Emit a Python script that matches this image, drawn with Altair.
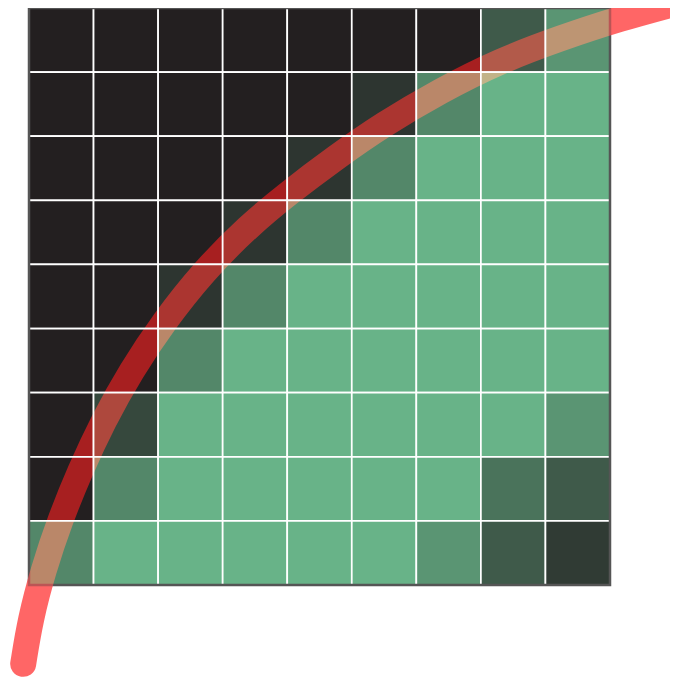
import altair as alt
import pandas as pd

# coverage of each cell (0 = dark, 1 = full green), rows listed top to bottom
coverage = [
    [0, 0, 0, 0, 0, 0, 0, 0.40, 0.80],
    [0, 0, 0, 0, 0, 0.15, 0.70, 1, 1],
    [0, 0, 0, 0, 0.15, 0.70, 1, 1, 1],
    [0, 0, 0, 0.15, 0.70, 1, 1, 1, 1],
    [0, 0, 0.15, 0.70, 1, 1, 1, 1, 1],
    [0, 0, 0.70, 1, 1, 1, 1, 1, 1],
    [0, 0.28, 1, 1, 1, 1, 1, 1, 0.80],
    [0, 0.70, 1, 1, 1, 1, 1, 0.57, 0.40],
    [0.70, 1, 1, 1, 1, 1, 0.80, 0.40, 0.19],
]

# red curve, in grid units (x from left, y from top)
curve_x = [-0.09, 0.02, 0.22, 0.48, 0.79, 1.15, 1.58, 2.09, 2.70, 3.39, 4.04,
           4.74, 5.48, 6.37, 7.30, 8.23, 9.16, 10.09, 10.71]
curve_y = [10.23, 9.54, 8.77, 7.99, 7.22, 6.44, 5.66, 4.89, 4.11, 3.41, 2.87,
           2.34, 1.82, 1.29, 0.82, 0.47, 0.16, -0.09, -0.26]

cells = pd.DataFrame(
    [
        {"col": c, "col2": c + 1, "row": r, "row2": r + 1, "v": coverage[r][c]}
        for r in range(len(coverage))
        for c in range(len(coverage[r]))
    ]
)
frame = pd.DataFrame([{"x": 0, "x2": 9, "y": 0, "y2": 9}])
curve = pd.DataFrame({"i": list(range(len(curve_x))), "x": curve_x, "y": curve_y})

xs = alt.Scale(domain=[0, 9], nice=False, zero=False)
ys = alt.Scale(domain=[0, 9], nice=False, zero=False, reverse=True)

rects = alt.Chart(cells).mark_rect(stroke="white", strokeWidth=1.7).encode(
    x=alt.X("col:Q", scale=xs, axis=None),
    x2="col2:Q",
    y=alt.Y("row:Q", scale=ys, axis=None),
    y2="row2:Q",
    color=alt.Color(
        "v:Q",
        scale=alt.Scale(domain=[0, 1], range=["#231f20", "#68b388"], interpolate="rgb"),
        legend=None,
    ),
)

border = alt.Chart(frame).mark_rect(
    fillOpacity=0, stroke="#555555", strokeWidth=2.5
).encode(
    x=alt.X("x:Q", scale=xs, axis=None),
    x2="x2:Q",
    y=alt.Y("y:Q", scale=ys, axis=None),
    y2="y2:Q",
)

line = alt.Chart(curve).mark_line(
    color="#ff0000",
    opacity=0.6,
    strokeWidth=26,
    strokeCap="round",
    interpolate="basis",
    blend="lighten",
).encode(
    x=alt.X("x:Q", scale=xs, axis=None),
    y=alt.Y("y:Q", scale=ys, axis=None),
    order="i:Q",
)

chart = (
    alt.layer(rects, border, line)
    .properties(
        width=581,
        height=577,
        autosize=alt.AutoSizeParams(type="none"),
        padding={"left": 21, "top": 0, "right": 60, "bottom": 92},
    )
    .configure(background="transparent")
    .configure_view(strokeWidth=0)
)

chart.save("out.html", embed_options={"renderer": "svg", "actions": False})
